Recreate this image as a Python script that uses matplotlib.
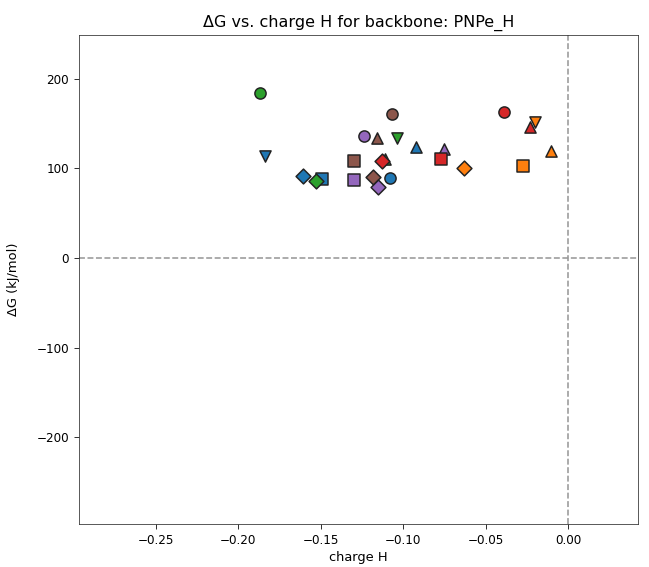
import matplotlib
matplotlib.use("Agg")
import matplotlib.pyplot as plt

# (marker, color, charge H, dG)
markers = ["o", "o", "o", "o", "o",
           "v", "v", "v",
           "^", "^", "^", "^", "^", "^",
           "s", "s", "s", "s", "s",
           "D", "D", "D", "D", "D", "D"]
point_colors = ["tab:green", "tab:purple", "tab:blue", "tab:brown", "tab:red",
                "tab:blue", "tab:green", "tab:orange",
                "tab:green", "tab:brown", "tab:blue", "tab:purple", "tab:red", "tab:orange",
                "tab:blue", "tab:brown", "tab:purple", "tab:red", "tab:orange",
                "tab:blue", "tab:green", "tab:brown", "tab:purple", "tab:red", "tab:orange"]
charge_h = [-0.187, -0.124, -0.108, -0.107, -0.039,
            -0.184, -0.104, -0.020,
            -0.111, -0.116, -0.092, -0.075, -0.023, -0.010,
            -0.149, -0.130, -0.130, -0.077, -0.027,
            -0.161, -0.153, -0.118, -0.115, -0.113, -0.063]
dG = [184, 136, 89, 161, 163,
      114, 134, 152,
      111, 134, 124, 122, 146, 120,
      88, 108, 87, 111, 103,
      92, 86, 91, 79, 108, 101]

fig = plt.figure(figsize=(649 / 72, 567 / 72), dpi=72)
ax = fig.add_axes([0.1217, 0.0758, 0.8613, 0.8624])

for m, c, x, y in zip(markers, point_colors, charge_h, dG):
    size = 125 if m != "D" else 110
    ax.scatter([x], [y], marker=m, color=c, s=size, edgecolors="#222222",
               linewidths=1.5, zorder=3)

ax.axhline(0, color="#999999", ls="--", lw=1.6, zorder=1)
ax.axvline(0, color="#999999", ls="--", lw=1.6, zorder=1)

ax.set_xlim(-0.2967, 0.0425)
ax.set_ylim(-297, 249)
ax.set_xticks([-0.25, -0.20, -0.15, -0.10, -0.05, 0.00])
ax.set_xticklabels(["\u22120.25", "\u22120.20", "\u22120.15", "\u22120.10", "\u22120.05", "0.00"])
ax.set_yticks([-200, -100, 0, 100, 200])
ax.tick_params(labelsize=12, length=5, pad=5)
for s in ax.spines.values():
    s.set_color("#333333")
ax.set_xlabel("charge H", fontsize=13, labelpad=4)
ax.set_ylabel("\u0394G (kJ/mol)", fontsize=13, labelpad=16)
ax.set_title("\u0394G vs. charge H for backbone: PNPe_H", fontsize=16, pad=8)

fig.savefig("out.png", dpi=72)
